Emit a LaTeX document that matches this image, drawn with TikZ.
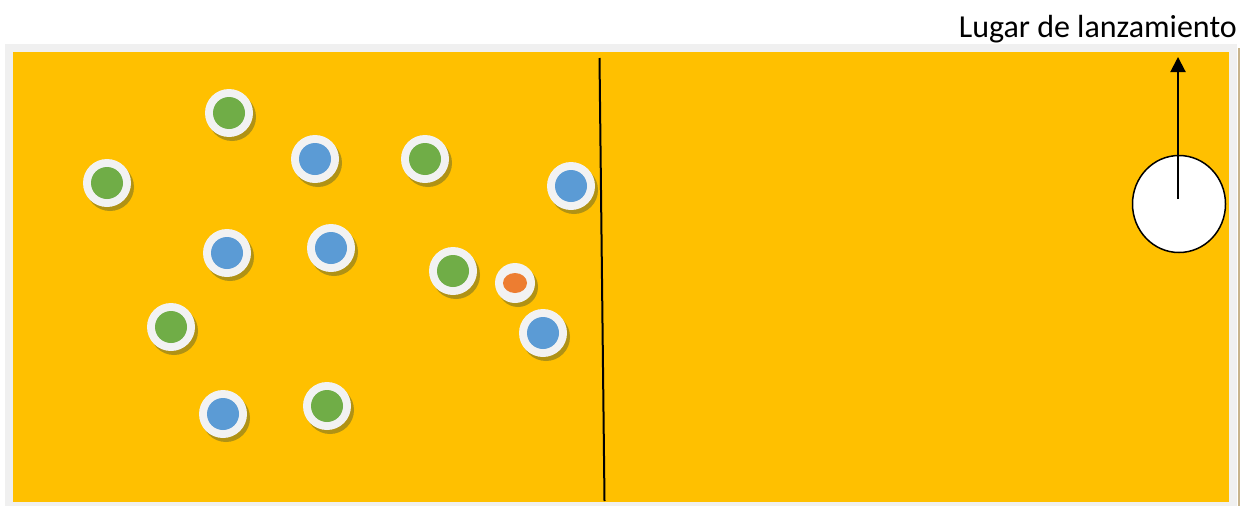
\documentclass[tikz,border=0pt]{standalone}
\usepackage{fontspec}
\setmainfont{Carlito}
\usetikzlibrary{arrows.meta,shapes,shadows}
\definecolor{campo}{RGB}{255,192,0}
\definecolor{marco}{RGB}{240,240,240}
\definecolor{borde}{RGB}{200,180,140}
\definecolor{blanco}{RGB}{242,242,242}
\definecolor{verde}{RGB}{112,173,71}
\definecolor{azul}{RGB}{91,155,213}
\definecolor{naranja}{RGB}{237,125,49}
\definecolor{sombra}{RGB}{168,142,24}

\begin{document}
\begin{tikzpicture}[x=1pt,y=-1pt,
  ficha/.style={circle,fill=blanco,minimum size=48pt,inner sep=0pt,
    drop shadow={shadow xshift=3pt,shadow yshift=-4pt,fill=sombra,opacity=.9},
    path picture={\fill[#1] (path picture bounding box.center) circle (16pt);}},
  bola/.style={circle,fill=blanco,minimum size=40pt,inner sep=0pt,
    drop shadow={shadow xshift=3pt,shadow yshift=-4pt,fill=sombra,opacity=.9},
    path picture={\fill[naranja] (path picture bounding box.center) ellipse (12pt and 10pt);}},
  flecha/.style={line width=2pt,-{Triangle[width=15pt,length=15pt]}}]
\useasboundingbox (0,0) rectangle (1244,506);
% cancha
\fill[marco] (5,44) rectangle (1237,506);
\fill[campo] (13,52) rectangle (1229,502);
\draw[borde,line width=2pt] (1238.5,48)--(1238.5,506);
\coordinate (red1) at (599.5,58);
\coordinate (red2) at (604.5,501);
\draw[line width=2pt] (red1)--(red2);
% fichas
\foreach \x/\y/\c [count=\i] in {229/113/verde,107/183/verde,425/159/verde,
  453/271/verde,171/327/verde,327/406/verde,315/159/azul,571/186/azul,
  227/253/azul,331/248/azul,543/333/azul,223/414/azul}
  \node[ficha=\c] (f\i) at (\x,\y) {};
\node[bola] (pelota) at (515,283) {};
% lugar de lanzamiento
\node[ellipse,draw,line width=1.5pt,fill=white,minimum width=93pt,minimum height=97pt,
  inner sep=0pt] (lugar) at (1179,204) {};
\coordinate (salida) at (1178,199);
\coordinate (tope) at (1178,57);
\draw[flecha] (salida)--(tope);
\node[anchor=base east,inner sep=0pt,font=\fontsize{32}{38}\selectfont] (rotulo)
  at (1237,37) {Lugar de lanzamiento};
\end{tikzpicture}
\end{document}
